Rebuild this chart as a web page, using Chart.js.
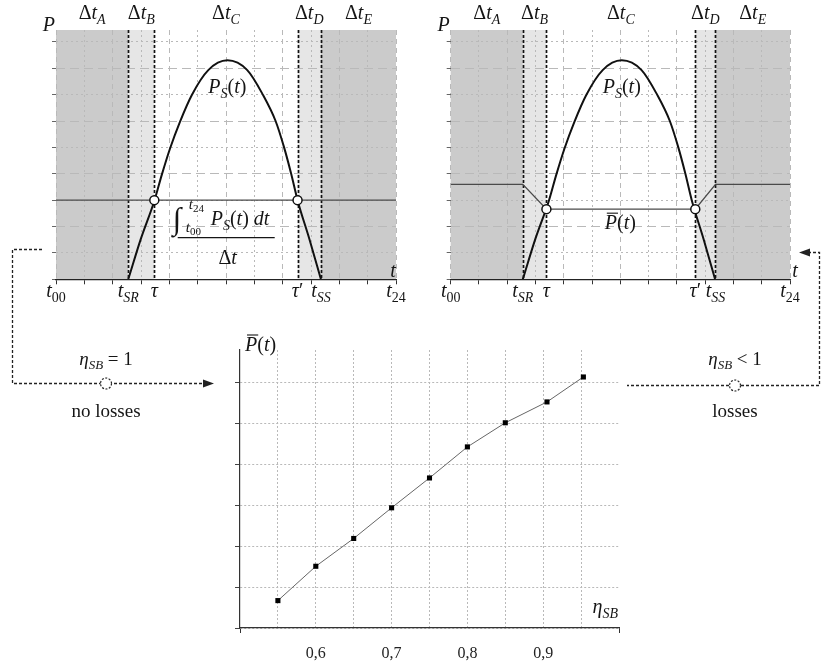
<!DOCTYPE html>
<html lang="en">
<head>
<meta charset="UTF-8">
<title>Average power vs storage efficiency</title>
<script src="https://cdn.jsdelivr.net/npm/chart.js"></script>
<style>
  body { margin: 0; background: #fff; }
  .page { position: relative; width: 821px; height: 663px; overflow: hidden;
          font-family: "Liberation Serif", "DejaVu Serif", serif; color: #151515; }
  .box { position: absolute; }
  #links { position: absolute; left: 0; top: 0; pointer-events: none; }
  .note { position: absolute; width: 120px; text-align: center; font-size: 19px; line-height: 1; white-space: nowrap; }
  .note sub { font-size: 13px; vertical-align: -4px; line-height: 0; }
</style>
</head>
<body>
<div class="page">
  <div class="box" style="left:0;top:0;width:410px;height:320px"><canvas id="dayLeft"></canvas></div>
  <div class="box" style="left:410px;top:0;width:411px;height:320px"><canvas id="dayRight"></canvas></div>
  <div class="box" style="left:200px;top:320px;width:430px;height:343px"><canvas id="effChart"></canvas></div>

  <!-- connectors between the panels -->
  <svg id="links" width="821" height="663" viewBox="0 0 821 663">
    <g fill="none" stroke="#222" stroke-width="1.3" stroke-dasharray="3 2">
      <path d="M42 249.5 H12.5 V383.5 H205"/>
      <path d="M808 252.5 H819.5 V385.5 H627"/>
    </g>
    <g fill="#222">
      <path d="M214 383.5 L203 379.5 L203 387.5 Z"/>
      <path d="M799 252.5 L810 248.5 L810 256.5 Z"/>
    </g>
    <g fill="#fff" stroke="#222" stroke-width="1.2" stroke-dasharray="2 1.5">
      <circle cx="106" cy="383.5" r="5.5"/>
      <circle cx="735" cy="385.5" r="5.5"/>
    </g>
  </svg>
  <div class="note" style="left:46px;top:349px"><i>η</i><sub><i>SB</i></sub> = 1</div>
  <div class="note" style="left:46px;top:401px">no losses</div>
  <div class="note" style="left:675px;top:349px"><i>η</i><sub><i>SB</i></sub> &lt; 1</div>
  <div class="note" style="left:675px;top:401px">losses</div>
</div>

<script>
// solar production P_S(t), same curve in both top panels
const psTime  = [5.1, 6.0, 6.94, 7.46, 8.05, 8.75, 9.58, 10.75, 12.1, 13.5, 14.6, 15.5, 16.1, 16.6, 17.05, 17.9, 18.7];
const psPower = [0, 1.55, 2.97, 3.95, 4.96, 5.97, 6.98, 7.93, 8.3, 7.93, 7.0, 6.0, 5.0, 4.0, 3.0, 1.5, 0];

// left panel: t_SR, tau, tau', t_SS and the flat daily mean
const marksLeft = [5.1, 6.94, 17.05, 18.7];
const meanTime  = [0, 24];
const meanPower = [3, 3];

// right panel: t_SR, tau, tau', t_SS and P-bar(t) with losses
const marksRight = [5.1, 6.77, 17.3, 18.73];
const pbarTime   = [0, 5.1, 6.77, 17.3, 18.73, 24];
const pbarPower  = [3.6, 3.6, 2.66, 2.66, 3.6, 3.6];

const hourTicks  = [0, 2, 4, 6, 8, 10, 12, 14, 16, 18, 20, 22, 24];
const powerTicks = [0, 1, 2, 3, 4, 5, 6, 7, 8, 9];

// bottom panel: P-bar against storage efficiency
const etaValues  = [0.55, 0.60, 0.65, 0.70, 0.75, 0.80, 0.85, 0.905, 0.953];
const pbarValues = [0.67, 1.51, 2.19, 2.94, 3.67, 4.43, 5.02, 5.53, 6.14];
const etaTicks      = [0.5, 0.55, 0.6, 0.65, 0.7, 0.75, 0.8, 0.85, 0.9, 0.95, 1.0];
const etaTickLabels = ['', '', '0,6', '', '0,7', '', '0,8', '', '0,9', '', ''];
const pbarTicks     = [0, 1, 2, 3, 4, 5, 6];

const intervalNames = ['A', 'B', 'C', 'D', 'E'];

const SERIF = '"Liberation Serif", "DejaVu Serif", serif';
const INK = '#151515';
const GRID = '#b9b9b9';
const DARK = '#cbcbcb';
const LIGHT = '#e6e6e6';

// draws a run of math pieces: i = italic, r = roman, second letter s = subscript, p = superscript
function drawMath(ctx, items, x, y, size, align) {
  const parts = items.map(([s, k]) => {
    const px = k.length > 1 ? Math.round(size * 0.7) : size;
    const font = (k[0] === 'i' ? 'italic ' : '') + px + 'px ' + SERIF;
    ctx.font = font;
    const dy = k[1] === 's' ? size * 0.25 : k[1] === 'p' ? -size * 0.45 : 0;
    return { s, font, dy, w: ctx.measureText(s).width };
  });
  const total = parts.reduce((sum, p) => sum + p.w, 0);
  const start = align === 'left' ? x : align === 'right' ? x - total : x - total / 2;
  let cx = start;
  ctx.save();
  ctx.fillStyle = INK;
  ctx.textAlign = 'left';
  ctx.textBaseline = 'alphabetic';
  parts.forEach(p => { ctx.font = p.font; ctx.fillText(p.s, cx, y + p.dy); cx += p.w; });
  ctx.restore();
  return { start, first: parts[0].w };
}

function overline(ctx, x0, x1, y) {
  ctx.save();
  ctx.strokeStyle = INK;
  ctx.lineWidth = 1.1;
  ctx.beginPath(); ctx.moveTo(x0, y); ctx.lineTo(x1, y); ctx.stroke();
  ctx.restore();
}

function tickName(i) {
  return [
    [['t', 'i'], ['00', 'rs']],
    [['t', 'i'], ['SR', 'is']],
    [['τ', 'i']],
    [['τ', 'i'], ['′', 'r']],
    [['t', 'i'], ['SS', 'is']],
    [['t', 'i'], ['24', 'rs']]
  ][i];
}

function dayPanel(marks, extra) {
  return {
    id: 'dayPanel',
    beforeDraw(chart) {
      const { ctx, chartArea: a, scales: { x } } = chart;
      const [sr, tau, tau2, ss] = marks;
      const band = (t0, t1, c) => {
        const x0 = x.getPixelForValue(t0), x1 = x.getPixelForValue(t1);
        ctx.fillStyle = c;
        ctx.fillRect(x0, a.top, x1 - x0, a.bottom - a.top);
      };
      ctx.save();
      band(0, sr, DARK); band(sr, tau, LIGHT); band(tau2, ss, LIGHT); band(ss, 24, DARK);
      ctx.restore();
    },
    beforeDatasetsDraw(chart) {
      const { ctx, chartArea: a, scales: { x } } = chart;
      ctx.save();
      ctx.strokeStyle = '#111';
      ctx.lineWidth = 1.7;
      ctx.setLineDash([3, 2]);
      marks.forEach(t => {
        const px = Math.round(x.getPixelForValue(t)) + 0.5;
        ctx.beginPath(); ctx.moveTo(px, a.top); ctx.lineTo(px, a.bottom); ctx.stroke();
      });
      ctx.restore();
    },
    afterDraw(chart) {
      const { ctx, chartArea: a, scales: { x, y } } = chart;
      const edges = [0, ...marks, 24];
      // interval names over the shaded bands
      intervalNames.forEach((n, i) => {
        const cx = (x.getPixelForValue(edges[i]) + x.getPixelForValue(edges[i + 1])) / 2;
        drawMath(ctx, [['Δ', 'r'], ['t', 'i'], [n, 'is']], cx, a.top - 11, 20);
      });
      // axis names and time labels
      drawMath(ctx, [['P', 'i']], a.left - 1, a.top + 1, 20, 'right');
      drawMath(ctx, [['t', 'i']], a.right + extra.tShift, a.bottom - 2, 20);
      edges.forEach((t, i) => drawMath(ctx, tickName(i), x.getPixelForValue(t), a.bottom + 18, 20));
      // P_S(t) under the peak
      const peak = Math.max(...psPower);
      drawMath(ctx, [['P', 'i'], ['S', 'is'], ['(', 'r'], ['t', 'i'], [')', 'r']],
        x.getPixelForValue(psTime[psPower.indexOf(peak)]), y.getPixelForValue(peak) + 33, 20);
      extra.draw(ctx, x, y);
    }
  };
}

function dayOptions(padding) {
  return {
    responsive: true,
    maintainAspectRatio: false,
    animation: false,
    devicePixelRatio: 1,
    layout: { padding },
    plugins: { legend: { display: false }, tooltip: { enabled: false } },
    scales: {
      x: {
        type: 'linear', min: 0, max: 24,
        afterBuildTicks: s => { s.ticks = hourTicks.map(v => ({ value: v })); },
        ticks: { display: false },
        grid: { color: GRID, lineWidth: 1, drawTicks: true, tickLength: 5, tickColor: '#333', tickBorderDash: [] },
        border: { display: true, color: '#222', width: 1.3, dash: c => (c.tick && c.tick.value % 4 === 0) ? [5, 4] : [2, 3] }
      },
      y: {
        min: 0, max: 9.45,
        afterBuildTicks: s => { s.ticks = powerTicks.map(v => ({ value: v })); },
        ticks: { display: false },
        grid: { color: GRID, lineWidth: 1, drawTicks: true, tickLength: 4, tickColor: '#666', tickBorderDash: [] },
        border: { display: false, dash: c => (c.tick && c.tick.value % 2 === 0) ? [9, 5] : [2, 3] }
      }
    }
  };
}

const toPoints = (xs, ys) => xs.map((v, i) => ({ x: v, y: ys[i] }));

function crossings(marks, level) {
  return [{ x: marks[1], y: level }, { x: marks[2], y: level }];
}

function dayDatasets(marks, levelX, levelY, crossLevel) {
  return [
    {
      data: crossings(marks, crossLevel), showLine: false,
      pointRadius: 4.5, pointBackgroundColor: '#fff', pointBorderColor: '#111', pointBorderWidth: 1.5
    },
    {
      data: toPoints(psTime, psPower), showLine: true, borderColor: '#111', borderWidth: 2,
      pointRadius: 0, cubicInterpolationMode: 'monotone', fill: false
    },
    {
      data: toPoints(levelX, levelY), showLine: true, borderColor: '#4a4a4a', borderWidth: 1.4,
      pointRadius: 0, tension: 0, fill: false
    }
  ];
}

// top-left: flat mean, no losses
new Chart(document.getElementById('dayLeft'), {
  type: 'scatter',
  data: { datasets: dayDatasets(marksLeft, meanTime, meanPower, meanPower[0]) },
  options: dayOptions({ left: 52, right: 14, top: 30, bottom: 35.7 }),
  plugins: [dayPanel(marksLeft, {
    tShift: -3,
    draw(ctx, x, y) {
      const ax = x.getPixelForValue(12.05), ay = y.getPixelForValue(1.58);
      ctx.save();
      ctx.strokeStyle = INK; ctx.lineWidth = 1.2;
      ctx.beginPath(); ctx.moveTo(ax - 49, ay); ctx.lineTo(ax + 48, ay); ctx.stroke();
      ctx.restore();
      drawMath(ctx, [['∫', 'r']], ax - 54, ay - 9, 31, 'left');
      drawMath(ctx, [['t', 'i'], ['24', 'rs']], ax - 38, ay - 29, 15, 'left');
      drawMath(ctx, [['t', 'i'], ['00', 'rs']], ax - 41, ay - 6, 15, 'left');
      drawMath(ctx, [['P', 'i'], ['S', 'is'], ['(', 'r'], ['t', 'i'], [')', 'r'], [' d', 'i'], ['t', 'i']], ax - 16, ay - 13, 20, 'left');
      drawMath(ctx, [['Δ', 'r'], ['t', 'i']], ax + 1, ay + 26, 20);
    }
  })]
});

// top-right: mean reduced by storage losses
new Chart(document.getElementById('dayRight'), {
  type: 'scatter',
  data: { datasets: dayDatasets(marksRight, pbarTime, pbarPower, pbarPower[2]) },
  options: dayOptions({ left: 36.7, right: 31, top: 30, bottom: 35.7 }),
  plugins: [dayPanel(marksRight, {
    tShift: 5,
    draw(ctx, x, y) {
      const base = y.getPixelForValue(1.9);
      const r = drawMath(ctx, [['P', 'i'], ['(', 'r'], ['t', 'i'], [')', 'r']], x.getPixelForValue(12), base, 20);
      overline(ctx, r.start + 2, r.start + r.first + 1, base - 16);
    }
  })]
});

// bottom: P-bar vs eta_SB
const edgeTick = c => c.tick && (c.tick.value === etaTicks[0] || c.tick.value === etaTicks[etaTicks.length - 1]);

new Chart(document.getElementById('effChart'), {
  type: 'scatter',
  data: {
    datasets: [{
      data: toPoints(etaValues, pbarValues),
      showLine: true, borderColor: '#666', borderWidth: 1,
      pointStyle: 'rect', pointRadius: 3.6, pointBackgroundColor: '#000', pointBorderWidth: 0
    }]
  },
  options: {
    responsive: true,
    maintainAspectRatio: false,
    animation: false,
    devicePixelRatio: 1,
    layout: { padding: { left: 35, right: 9, top: 30, bottom: 0 } },
    plugins: { legend: { display: false }, tooltip: { enabled: false } },
    scales: {
      x: {
        type: 'linear', min: 0.5, max: 1.0,
        afterBuildTicks: s => { s.ticks = etaTicks.map(v => ({ value: v })); },
        afterFit: s => { s.height = 35; },
        ticks: {
          autoSkip: false, maxRotation: 0, padding: 11, color: '#222',
          font: { family: SERIF, size: 16 },
          callback: (v, i) => etaTickLabels[i]
        },
        grid: {
          color: c => edgeTick(c) ? 'rgba(0,0,0,0)' : GRID,
          tickColor: c => edgeTick(c) ? '#333' : 'rgba(0,0,0,0)',
          tickLength: 5, tickBorderDash: []
        },
        border: { color: '#333', width: 1.2, dash: [2, 2] }
      },
      y: {
        min: 0, max: 6.8,
        afterBuildTicks: s => { s.ticks = pbarTicks.map(v => ({ value: v })); },
        ticks: { display: false },
        grid: { color: GRID, tickColor: '#444', tickLength: 5, tickBorderDash: [] },
        border: { color: '#333', width: 1.2, dash: [2, 2] }
      }
    }
  },
  plugins: [{
    id: 'effLabels',
    afterDraw(chart) {
      const { ctx, chartArea: a } = chart;
      const r = drawMath(ctx, [['P', 'i'], ['(', 'r'], ['t', 'i'], [')', 'r']], a.left + 5, a.top + 1, 20, 'left');
      overline(ctx, r.start + 2, r.start + r.first + 1, a.top - 15);
      drawMath(ctx, [['η', 'i'], ['SB', 'is']], a.right - 1, a.bottom - 15, 20, 'right');
    }
  }]
});
</script>
</body>
</html>
